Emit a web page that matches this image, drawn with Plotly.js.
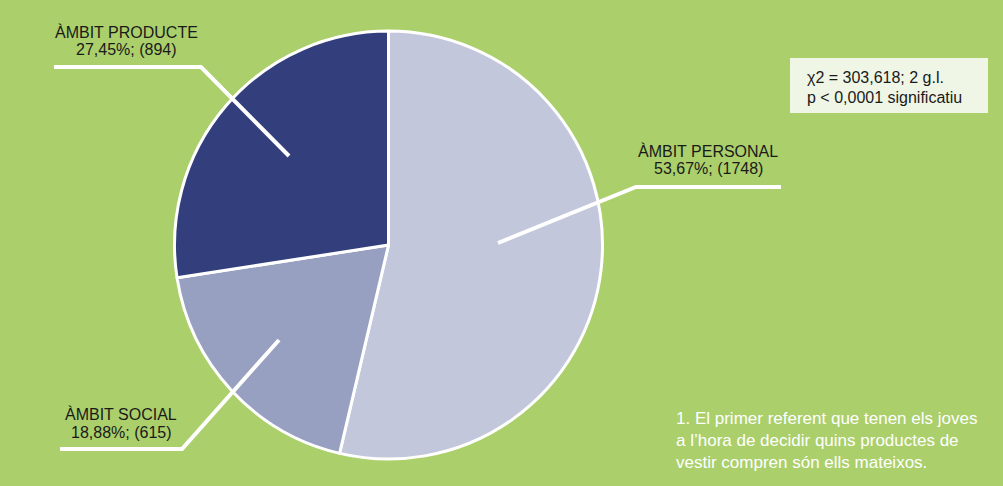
<!DOCTYPE html>
<html><head><meta charset="utf-8">
<script src="https://cdn.plot.ly/plotly-3.0.1.min.js"></script>
<style>html,body{margin:0;padding:0;background:#aacf6b;}</style>
</head><body>
<div id="chart" style="width:1003px;height:486px;"></div>
<script>
const categories = ["ÀMBIT PERSONAL", "ÀMBIT SOCIAL", "ÀMBIT PRODUCTE"];
const percents = [53.67, 18.88, 27.45];
const counts = [1748, 615, 894];
const colors = ["#c3c7db", "#97a0c0", "#323f7c"];
const statLines = ["χ2 = 303,618; 2 g.l.", "p < 0,0001 significatiu"];
const noteLines = ["1. El primer referent que tenen els joves", "a l’hora de decidir quins productes de", "vestir compren són ells mateixos."];

const W = 1003, H = 486;
const px = x => x / W, py = y => 1 - y / H;
const fmt = v => v.toFixed(2).replace('.', ',');

const font = "Liberation Sans, Arial, Helvetica, sans-serif";

const trace = {
  type: 'pie',
  labels: categories,
  values: percents,
  sort: false,
  direction: 'clockwise',
  rotation: 0,
  textinfo: 'none',
  hoverinfo: 'none',
  marker: {colors: colors, line: {color: '#ffffff', width: 3}},
  domain: {x: [px(174), px(603)], y: [py(459), py(31)]},
  showlegend: false
};

// label positions (pixel) and leader lines
const labelPos = [
  {x: 708, y1: 151, y2: 168},
  {x: 121, y1: 414, y2: 432},
  {x: 126, y1: 32, y2: 49}
];
const leaders = [
  [[498, 243], [636, 187], [781, 187]],
  [[279, 340], [182, 449], [60, 449]],
  [[289, 156], [201, 67], [54, 67]]
];

const annotations = [];
categories.forEach((c, i) => {
  annotations.push({xref: 'paper', yref: 'paper', x: px(labelPos[i].x), y: py(labelPos[i].y1), text: c,
    showarrow: false, xanchor: 'center', yanchor: 'middle', font: {family: font, size: 16, color: '#1a1a1a'}});
  annotations.push({xref: 'paper', yref: 'paper', x: px(labelPos[i].x), y: py(labelPos[i].y2),
    text: fmt(percents[i]) + '%; (' + counts[i] + ')',
    showarrow: false, xanchor: 'center', yanchor: 'middle', font: {family: font, size: 16, color: '#1a1a1a'}});
});
statLines.forEach((t, i) => {
  annotations.push({xref: 'paper', yref: 'paper', x: px(805), y: py(77 + i * 21), text: t,
    showarrow: false, xanchor: 'left', yanchor: 'middle', font: {family: font, size: 16, color: '#1a1a1a'}});
});
annotations.push({xref: 'paper', yref: 'paper', x: px(674), y: py(440), text: noteLines.join('<br>'),
  showarrow: false, xanchor: 'left', yanchor: 'middle', align: 'left',
  font: {family: font, size: 17, color: '#ffffff'}});

const shapes = [{
  type: 'rect', xref: 'paper', yref: 'paper',
  x0: px(790), x1: px(988), y0: py(113), y1: py(58),
  fillcolor: '#eff6e6', line: {width: 0}, layer: 'below'
}];
leaders.forEach(pts => {
  const path = 'M' + pts.map(p => px(p[0]) + ',' + py(p[1])).join(' L');
  shapes.push({type: 'path', xref: 'paper', yref: 'paper', path: path,
    line: {color: '#ffffff', width: 4}, layer: 'above'});
});

const layout = {
  width: W, height: H,
  margin: {l: 0, r: 0, t: 0, b: 0},
  paper_bgcolor: '#aacf6b',
  plot_bgcolor: '#aacf6b',
  showlegend: false,
  annotations: annotations,
  shapes: shapes
};
Plotly.newPlot('chart', [trace], layout, {staticPlot: true, displayModeBar: false});
</script>
</body></html>
